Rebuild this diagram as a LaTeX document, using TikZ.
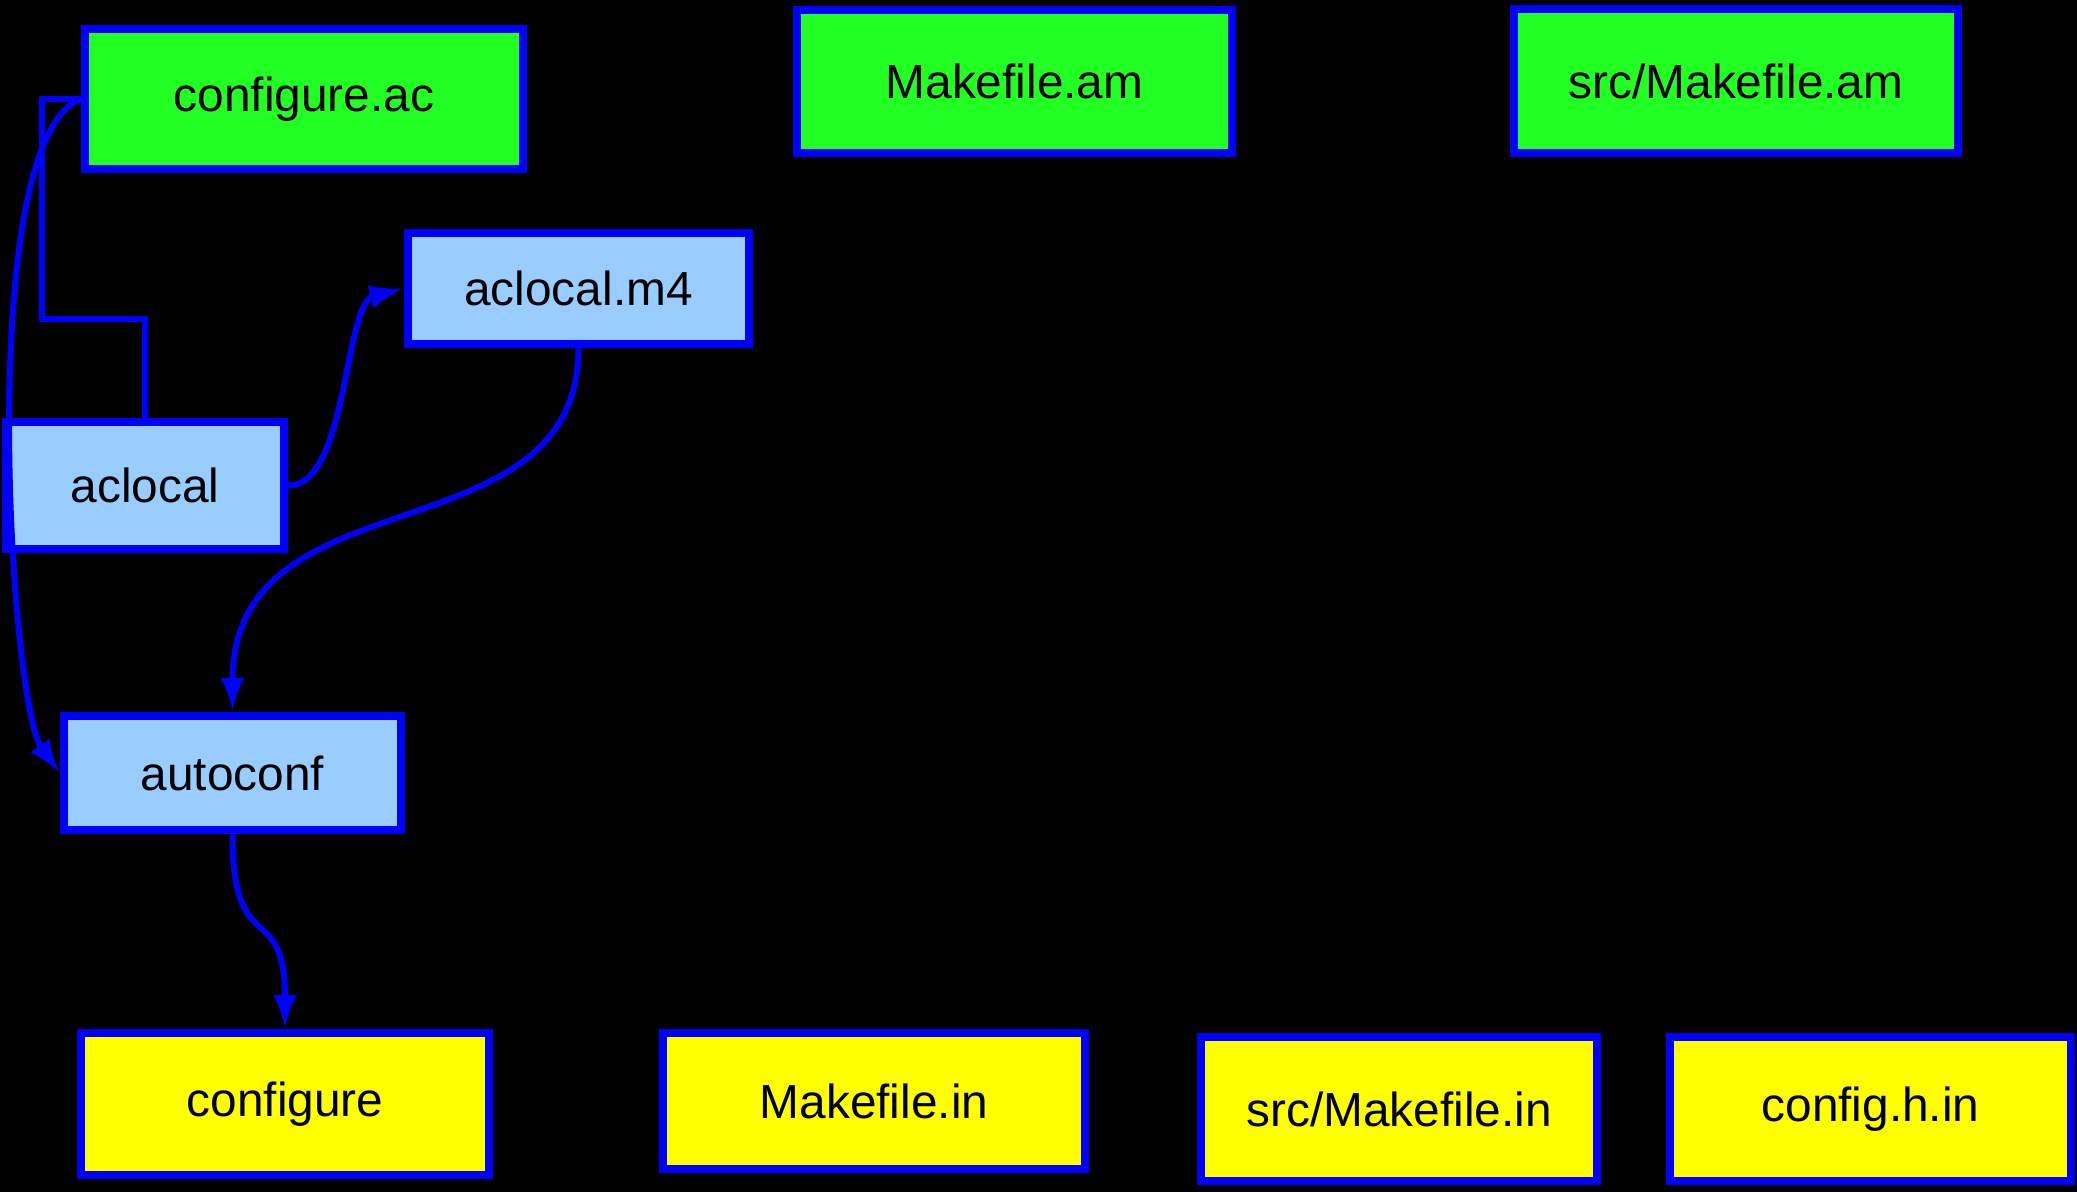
\documentclass[tikz,border=0pt]{standalone}
\usepackage{fontspec}
\setmainfont{Liberation Sans}
\usepackage{tikz}
\usetikzlibrary{arrows.meta}
\definecolor{edge}{HTML}{0000FF}
\definecolor{amgreen}{HTML}{22FF22}
\definecolor{toolblue}{HTML}{99CCFF}
\definecolor{genyellow}{HTML}{FFFF00}
\tikzset{box/.style={rectangle,draw=edge,line width=.85mm,inner sep=0pt,
    font=\fontsize{13.6}{16}\selectfont,text=black},
  srcbox/.style={box,fill=amgreen},
  toolbox/.style={box,fill=toolblue},
  genbox/.style={box,fill=genyellow},
  link/.style={draw=edge,line width=.6mm},
  arr/.style={link,-{Latex[length=3.4mm,width=2.4mm]}}}

\begin{document}
\begin{tikzpicture}[x=.1mm,y=-.1mm]
\useasboundingbox (0,0) rectangle (2077,1191);
\fill[black] (-20,-20) rectangle (2097,1211);
% inputs
\node[srcbox,minimum width=43.8mm,minimum height=14mm] (cac) at (304,99) {configure.ac};
\node[srcbox,minimum width=43.5mm,minimum height=14.3mm] (mam) at (1014.5,81.5) {Makefile.am};
\node[srcbox,minimum width=44.4mm,minimum height=14.4mm] (smam) at (1736,81) {src/Makefile.am};
% tools
\node[toolbox,minimum width=34.1mm,minimum height=11.1mm] (m4) at (578.5,288.5) {aclocal.m4};
\node[toolbox,minimum width=27.8mm,minimum height=12.7mm] (acl) at (145,485.5) {aclocal};
\node[toolbox,minimum width=33.7mm,minimum height=11.4mm] (ac) at (232.5,773) {autoconf};
% outputs
\node[genbox,minimum width=40.8mm,minimum height=14.2mm] (cfg) at (285,1104) {configure};
\node[genbox,minimum width=42.2mm,minimum height=13.6mm] (min) at (874,1101) {Makefile.in};
\node[genbox,minimum width=39.6mm,minimum height=14.4mm] (smin) at (1399,1109) {src/Makefile.in};
\node[genbox,minimum width=40.1mm,minimum height=14.4mm] (chin) at (1870.5,1109) {config.h.in};
% connectors
\coordinate (bend) at (42,319);
\draw[link] (cac.west) -| (bend) -| (acl.north);
\draw[arr] (cac.west) .. controls +(-107,41) and +(-50,-69) .. (ac.west);
\draw[arr] (acl.east) .. controls +(60,0) and +(-60,15) .. (m4.west);
\draw[arr] (m4.south) .. controls +(0,213) and +(0,-243) .. (ac.north);
\draw[arr] (ac.south) .. controls +(0,128) and +(0,-132) .. (cfg.north);
\end{tikzpicture}
\end{document}
